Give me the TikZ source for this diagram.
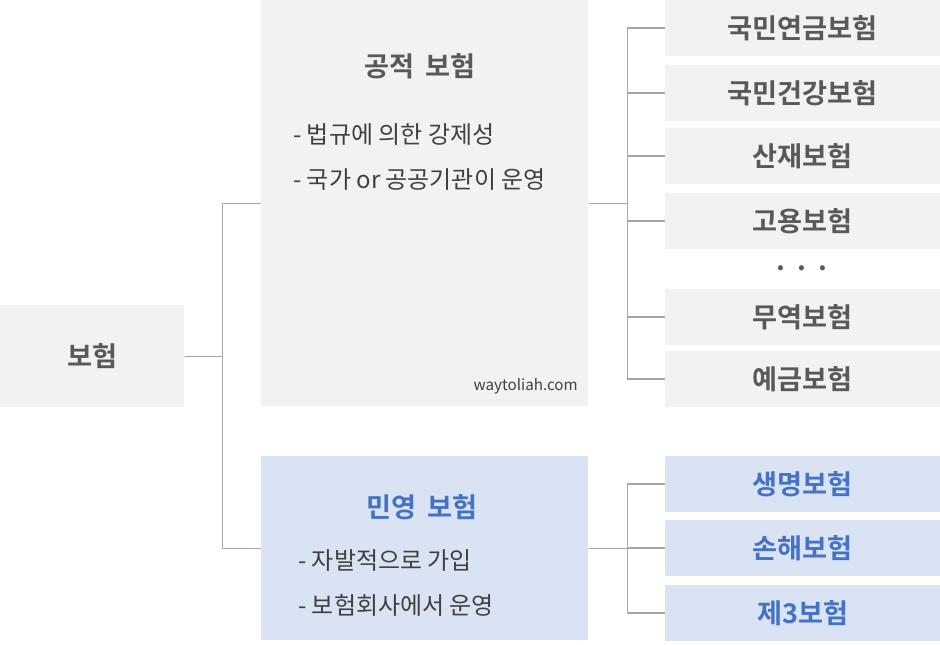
\documentclass[tikz,border=0pt]{standalone}
\usepackage{fontspec}
\setmainfont{Noto Sans CJK KR}[BoldFont={Noto Sans CJK KR Bold}]
\usetikzlibrary{positioning}
\definecolor{boxgray}{HTML}{F2F2F2}
\definecolor{boxblue}{HTML}{DAE3F3}
\definecolor{txtgray}{HTML}{595959}
\definecolor{txtdark}{HTML}{404040}
\definecolor{txtblue}{HTML}{4472C4}
\definecolor{linegray}{HTML}{A6A6A6}

\begin{document}
\begin{tikzpicture}[x=0.75pt,y=-0.75pt,
  box/.style={shape=rectangle, fill=boxgray, inner sep=0pt, anchor=north west},
  leaf/.style={box, minimum width=206.25pt, minimum height=41.6pt, font=\bfseries\fontsize{20.4}{22}\selectfont, text=txtgray},
  bleaf/.style={leaf, fill=boxblue, text=txtblue},
  title/.style={font=\bfseries\fontsize{20.4}{22}\selectfont, text=txtgray, inner sep=0pt},
  note/.style={font=\fontsize{18}{20}\selectfont, text=txtdark, anchor=west, inner sep=0pt},
  conn/.style={draw=linegray, line width=0.9pt}]
\useasboundingbox (0,0) rectangle (940,645);

\node[box, minimum width=138pt, minimum height=76.5pt] (root) at (0,305) {};
\node[title] (roottitle) at (root.center) {보험};

\node[box, minimum width=245.25pt, minimum height=304.5pt] (pub) at (261,0) {};
\node[title] (pubtitle) at (420,66) {공적\hspace{4pt} 보험};
\node[note] (pubnote1) at (293,135) {- 법규에 의한 강제성};
\node[note] (pubnote2) at (293,180) {- 국가 or 공공기관이 운영};
\node[font=\fontsize{11.4}{13}\selectfont, text=txtdark, anchor=east, inner sep=0pt] (site) at (578,386) {waytoliah.com};

\node[box, fill=boxblue, minimum width=245.25pt, minimum height=138pt] (priv) at (261,456) {};
\node[title, text=txtblue] (privtitle) at (422,507) {민영\hspace{4pt} 보험};
\node[note] (privnote1) at (298,561) {- 자발적으로 가입};
\node[note] (privnote2) at (298,605) {- 보험회사에서 운영};

\node[leaf] (p1) at (665,0) {국민연금보험};
\node[leaf] (p2) at (665,65) {국민건강보험};
\node[leaf] (p3) at (665,128) {산재보험};
\node[leaf] (p4) at (665,193) {고용보험};
\node[title, anchor=base] (dots) at (802,271) {.\ \ .\ \ .};
\node[leaf] (p5) at (665,289) {무역보험};
\node[leaf] (p6) at (665,351) {예금보험};

\node[bleaf] (q1) at (665,456) {생명보험};
\node[bleaf] (q2) at (665,520) {손해보험};
\node[bleaf] (q3) at (665,585) {제3보험};

\draw[conn] (root.east) -- ++(38,0) coordinate (j1);
\draw[conn] (pub.west) -| (j1) |- (priv.west);

\draw[conn] (pub.east) -- ++(39,0) coordinate (j2);
\foreach \n in {p1,p2,p3,p4,p5,p6}
  \draw[conn] (j2) |- (\n.west);

\draw[conn] (priv.east) -- ++(39,0) coordinate (j3);
\foreach \n in {q1,q2,q3}
  \draw[conn] (j3) |- (\n.west);
\end{tikzpicture}
\end{document}
